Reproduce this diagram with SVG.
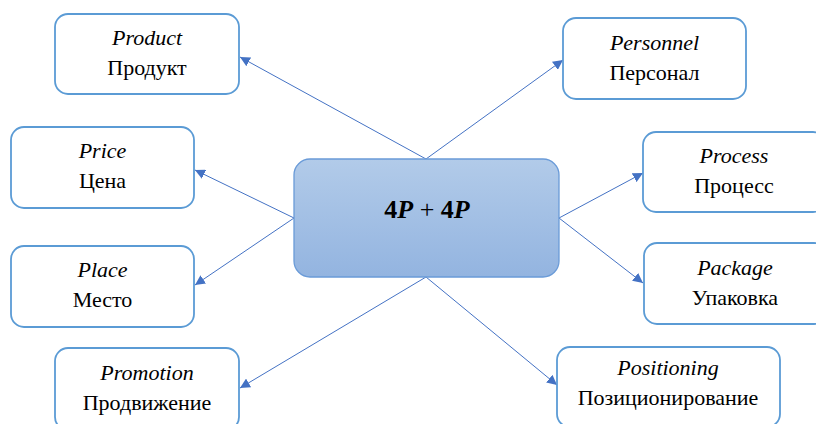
<svg xmlns="http://www.w3.org/2000/svg" width="816" height="424" viewBox="0 0 816 424">
  <defs>
    <linearGradient id="hubFill" x1="0" y1="0" x2="0" y2="1">
      <stop offset="0" stop-color="#B2CBE9"/>
      <stop offset="1" stop-color="#93B4E0"/>
    </linearGradient>
    <marker id="arrow" viewBox="0 0 10 10" refX="10" refY="5" markerWidth="10" markerHeight="10" markerUnits="userSpaceOnUse" orient="auto">
      <path d="M0,0 L10,5 L0,10 Z" fill="#4472C4"/>
    </marker>
    <style>
      .node { fill: #FFFFFF; stroke: #5B9BD5; stroke-width: 1.8; }
      .hub { fill: url(#hubFill); stroke: #6A9BD8; stroke-width: 1.3; }
      .conn { stroke: #4472C4; stroke-width: 1; fill: none; marker-end: url(#arrow); }
      .lbl { font-family: 'Liberation Serif', serif; font-size: 22px; fill: #000000; text-anchor: middle; }
      .en { font-style: italic; }
      .title { font-size: 26px; font-weight: bold; }
    </style>
  </defs>

  <g id="connectors">
    <line class="conn" x1="426" y1="159" x2="240" y2="57"/>
    <line class="conn" x1="426" y1="159" x2="563" y2="60"/>
    <line class="conn" x1="294" y1="218" x2="195" y2="170"/>
    <line class="conn" x1="294" y1="218" x2="195" y2="285"/>
    <line class="conn" x1="559" y1="218" x2="643" y2="173"/>
    <line class="conn" x1="559" y1="218" x2="643" y2="283"/>
    <line class="conn" x1="426" y1="277" x2="240" y2="388"/>
    <line class="conn" x1="426" y1="277" x2="557" y2="385"/>
  </g>

  <g id="hub">
    <rect class="hub" x="294" y="159" width="265" height="118" rx="16"/>
    <text class="lbl title" x="427" y="218">4<tspan font-style="italic">P</tspan> <tspan font-weight="normal">+</tspan> 4<tspan font-style="italic">P</tspan></text>
  </g>

  <g id="product">
    <rect class="node" x="55" y="14" width="184" height="80" rx="13"/>
    <text class="lbl en" x="147" y="45">Product</text>
    <text class="lbl" x="147" y="75">Продукт</text>
  </g>

  <g id="personnel">
    <rect class="node" x="563" y="18" width="183" height="81" rx="13"/>
    <text class="lbl en" x="654.5" y="50">Personnel</text>
    <text class="lbl" x="654.5" y="80">Персонал</text>
  </g>

  <g id="price">
    <rect class="node" x="11" y="127" width="183" height="81" rx="13"/>
    <text class="lbl en" x="102.5" y="158">Price</text>
    <text class="lbl" x="102.5" y="188">Цена</text>
  </g>

  <g id="place">
    <rect class="node" x="11" y="246" width="183" height="81" rx="13"/>
    <text class="lbl en" x="102.5" y="277">Place</text>
    <text class="lbl" x="102.5" y="307">Место</text>
  </g>

  <g id="process">
    <rect class="node" x="643" y="132" width="183" height="80" rx="13"/>
    <text class="lbl en" x="734" y="163">Process</text>
    <text class="lbl" x="734" y="193">Процесс</text>
  </g>

  <g id="package">
    <rect class="node" x="644" y="243" width="183" height="81" rx="13"/>
    <text class="lbl en" x="735" y="275">Package</text>
    <text class="lbl" x="735" y="305">Упаковка</text>
  </g>

  <g id="promotion">
    <rect class="node" x="55" y="348" width="184" height="82" rx="13"/>
    <text class="lbl en" x="147" y="380">Promotion</text>
    <text class="lbl" x="147" y="410">Продвижение</text>
  </g>

  <g id="positioning">
    <rect class="node" x="557" y="347" width="223" height="80" rx="13"/>
    <text class="lbl en" x="668" y="375">Positioning</text>
    <text class="lbl" x="668" y="405">Позиционирование</text>
  </g>
</svg>
